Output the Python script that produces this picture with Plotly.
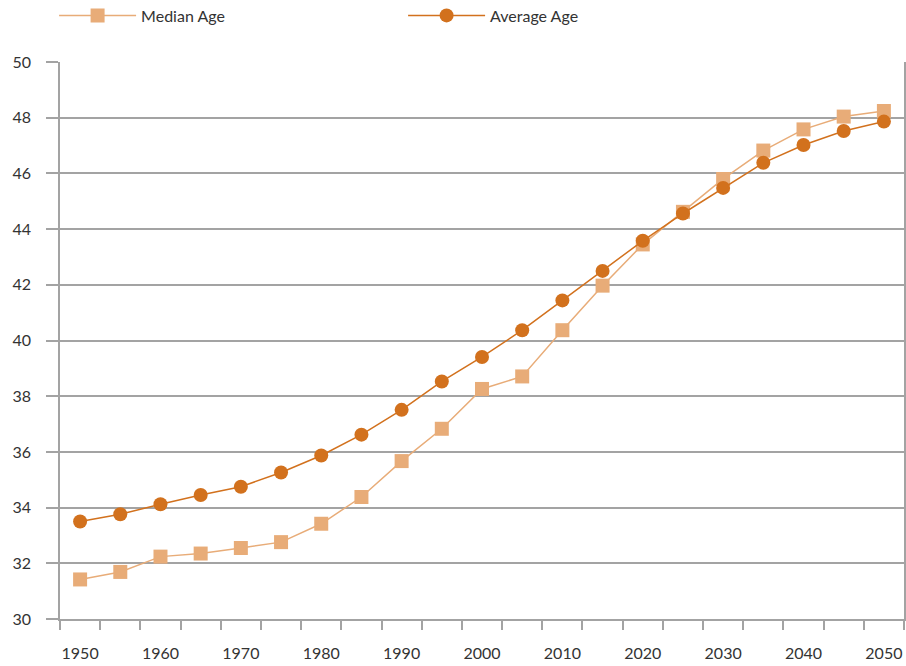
import plotly.graph_objects as go

years = list(range(1950, 2051, 5))
median_age = [31.42, 31.69, 32.24, 32.35, 32.55, 32.76, 33.42, 34.38, 35.67, 36.83,
              38.26, 38.71, 40.37, 41.97, 43.45, 44.62, 45.80, 46.82, 47.58, 48.04, 48.24]
average_age = [33.50, 33.76, 34.12, 34.45, 34.75, 35.26, 35.87, 36.62, 37.51, 38.53,
               39.41, 40.37, 41.44, 42.50, 43.58, 44.56, 45.48, 46.38, 47.02, 47.52, 47.86]
label_years = list(range(1950, 2051, 10))
y_ticks = list(range(30, 51, 2))

MEDIAN_COLOR = "#E8AC78"
AVERAGE_COLOR = "#D2711D"
GRID = "#A3A3A3"
FONT = "Lato, 'Noto Sans', sans-serif"

fig = go.Figure()
fig.add_trace(go.Scatter(
    x=years, y=median_age, name="Median Age", mode="lines+markers",
    line=dict(color=MEDIAN_COLOR, width=1.5),
    marker=dict(symbol="square", size=14, color=MEDIAN_COLOR),
))
fig.add_trace(go.Scatter(
    x=years, y=average_age, name="Average Age", mode="lines+markers",
    line=dict(color=AVERAGE_COLOR, width=1.5),
    marker=dict(symbol="circle", size=14, color=AVERAGE_COLOR),
))

boundaries = [years[0] - 2.5 + 5 * i for i in range(len(years) + 1)]

fig.update_layout(
    width=906, height=666,
    margin=dict(l=60, r=2, t=62, b=47, autoexpand=False),
    paper_bgcolor="white", plot_bgcolor="white",
    font=dict(family=FONT, size=16, color="#333333"),
    showlegend=True,
    legend=dict(
        orientation="h", x=-0.007, xanchor="left", y=1.114, yanchor="top",
        entrywidth=257, entrywidthmode="pixels", itemwidth=77,
        font=dict(family=FONT, size=16, color="#333333"),
        bgcolor="rgba(0,0,0,0)", traceorder="normal",
    ),
    xaxis=dict(
        range=[boundaries[0], boundaries[-1]],
        tickmode="array", tickvals=label_years, ticktext=[str(v) for v in label_years],
        ticks="", showgrid=False, zeroline=False,
        showline=True, linecolor=GRID, linewidth=1.5, mirror=False,
        ticklabelstandoff=19,
        minor=dict(tickmode="array", tickvals=boundaries, ticks="outside",
                   ticklen=9, tickcolor=GRID, tickwidth=1.5, showgrid=False),
    ),
    yaxis=dict(
        range=[30, 50], tickmode="array", tickvals=y_ticks,
        ticks="outside", ticklen=12, tickcolor=GRID, tickwidth=1.5,
        showgrid=True, gridcolor=GRID, gridwidth=1.5, zeroline=False,
        showline=True, linecolor=GRID, linewidth=1.5, mirror=True,
        ticklabelstandoff=12,
    ),
)

fig.write_html("out.html", config={"displayModeBar": False},
               post_script="document.body.style.margin='0';")
